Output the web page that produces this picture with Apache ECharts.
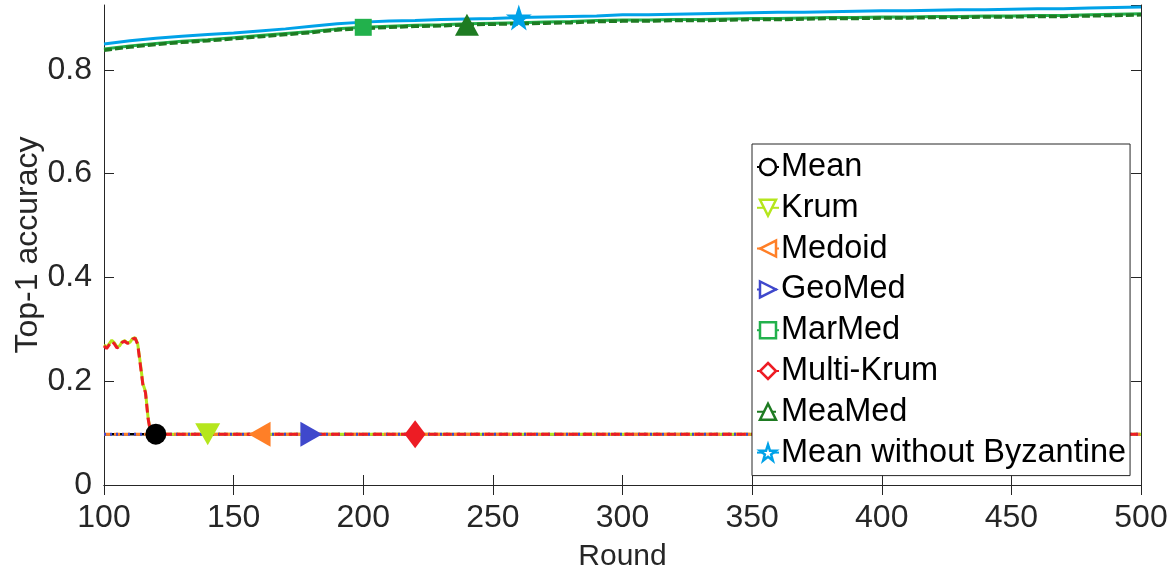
<!DOCTYPE html>
<html><head><meta charset="utf-8">
<script src="https://cdn.jsdelivr.net/npm/echarts@6/dist/echarts.min.js"></script>
<style>html,body{margin:0;padding:0;background:#fff}#c{width:1174px;height:579px}</style>
</head><body><div id="c"></div>
<script>
const xTicks = [100,150,200,250,300,350,400,450,500];
const yTicks = [0,0.2,0.4,0.6,0.8];
const rounds = [100,110,120,130,140,150,160,170,180,190,200,210,220,230,240,250,260,270,280,290,300,310,320,330,340,350,360,370,380,390,400,410,420,430,440,450,460,470,480,490,500];
const roundsKrum = [100,101,102,103,104,105,106,107,108,109,110,111,112,113,114,115,116,117,118,119,120,130,140,150,160,170,180,190,200,210,220,230,240,250,260,270,280,290,300,310,320,330,340,350,360,370,380,390,400,410,420,430,440,450,460,470,480,490,500];
const meanAcc   = [0.098,0.098,0.098,0.098,0.098,0.098,0.098,0.098,0.098,0.098,0.098,0.098,0.098,0.098,0.098,0.098,0.098,0.098,0.098,0.098,0.098,0.098,0.098,0.098,0.098,0.098,0.098,0.098,0.098,0.098,0.098,0.098,0.098,0.098,0.098,0.098,0.098,0.098,0.098,0.098,0.098];
const medoidAcc = [0.098,0.098,0.098,0.098,0.098,0.098,0.098,0.098,0.098,0.098,0.098,0.098,0.098,0.098,0.098,0.098,0.098,0.098,0.098,0.098,0.098,0.098,0.098,0.098,0.098,0.098,0.098,0.098,0.098,0.098,0.098,0.098,0.098,0.098,0.098,0.098,0.098,0.098,0.098,0.098,0.098];
const geoMedAcc = [0.098,0.098,0.098,0.098,0.098,0.098,0.098,0.098,0.098,0.098,0.098,0.098,0.098,0.098,0.098,0.098,0.098,0.098,0.098,0.098,0.098,0.098,0.098,0.098,0.098,0.098,0.098,0.098,0.098,0.098,0.098,0.098,0.098,0.098,0.098,0.098,0.098,0.098,0.098,0.098,0.098];
const krumAcc = [0.270,0.266,0.272,0.279,0.274,0.266,0.268,0.276,0.278,0.274,0.275,0.282,0.284,0.272,0.235,0.195,0.180,0.130,0.100,0.098,0.098,
  0.098,0.098,0.098,0.098,0.098,0.098,0.098,0.098,0.098,0.098,0.098,0.098,0.098,0.098,0.098,0.098,0.098,0.098,0.098,0.098,0.098,0.098,0.098,0.098,0.098,0.098,0.098,0.098,0.098,0.098,0.098,0.098,0.098,0.098,0.098,0.098,0.098,0.098];
const multiKrumAcc = [0.268,0.263,0.270,0.277,0.272,0.264,0.267,0.275,0.277,0.273,0.274,0.281,0.283,0.271,0.232,0.193,0.178,0.128,0.100,0.098,0.098,
  0.098,0.098,0.098,0.098,0.098,0.098,0.098,0.098,0.098,0.098,0.098,0.098,0.098,0.098,0.098,0.098,0.098,0.098,0.098,0.098,0.098,0.098,0.098,0.098,0.098,0.098,0.098,0.098,0.098,0.098,0.098,0.098,0.098,0.098,0.098,0.098,0.098,0.098];
const marMedAcc = [0.840,0.846,0.851,0.855,0.858,0.862,0.866,0.870,0.874,0.879,0.882,0.884,0.886,0.887,0.889,0.890,0.891,0.892,0.893,0.895,0.896,0.896,0.897,0.897,0.898,0.899,0.899,0.900,0.901,0.901,0.902,0.902,0.903,0.903,0.904,0.904,0.905,0.905,0.906,0.907,0.908];
const meaMedAcc = [0.838,0.844,0.849,0.853,0.856,0.860,0.864,0.868,0.872,0.877,0.880,0.882,0.884,0.885,0.887,0.888,0.889,0.890,0.891,0.893,0.894,0.894,0.895,0.895,0.896,0.897,0.897,0.898,0.899,0.899,0.900,0.900,0.901,0.901,0.902,0.902,0.903,0.903,0.904,0.905,0.906];
const noByzAcc  = [0.850,0.856,0.861,0.865,0.868,0.871,0.875,0.879,0.884,0.889,0.892,0.894,0.895,0.897,0.898,0.899,0.901,0.902,0.903,0.904,0.906,0.906,0.907,0.908,0.909,0.910,0.911,0.911,0.912,0.913,0.914,0.914,0.915,0.916,0.916,0.917,0.918,0.918,0.919,0.920,0.921];
const names = ['Mean','Krum','Medoid','GeoMed','MarMed','Multi-Krum','MeaMed','Mean without Byzantine'];
const markerRounds = [120,140,160,180,200,220,240,260];

const STAR = 'path://M50,0 L61.8,35.1 L98.5,35.1 L68.8,56.9 L79.4,91.9 L50,70.5 L20.6,91.9 L31.2,56.9 L1.5,35.1 L38.2,35.1 Z';
const specs = [
  {x: rounds, y: meanAcc, color:'#000000', type:'solid', w:2.5, sym:'circle', size:21, rot:0},
  {x: roundsKrum, y: krumAcc, color:'#B5E61D', type:'solid', w:3, sym:'triangle', size:[25,22], rot:180},
  {x: rounds, y: medoidAcc, color:'#FF7F27', type:[6,4], w:3, sym:'triangle', size:[25,22], rot:90},
  {x: rounds, y: geoMedAcc, color:'#3F48CC', type:[2,4], w:3, sym:'triangle', size:[25,22], rot:-90},
  {x: rounds, y: marMedAcc, color:'#22B14C', type:'solid', w:3, sym:'rect', size:17, rot:0},
  {x: roundsKrum, y: multiKrumAcc, color:'#ED1C24', type:[9,5], w:3, sym:'diamond', size:[21,28], rot:0},
  {x: rounds, y: meaMedAcc, color:'#1E7B22', type:[8,3], w:3.5, sym:'triangle', size:[24,22], rot:0},
  {x: rounds, y: noByzAcc, color:'#00A2E8', type:'solid', w:3, sym:STAR, size:26, rot:0}
];

const series = specs.map((s, i) => {
  const mr = markerRounds[i];
  const mv = s.y[s.x.indexOf(mr)];
  return {
    name: names[i], type: 'line', xAxisIndex: 0, yAxisIndex: 0,
    data: s.x.map((r, k) => [r, s.y[k]]),
    showSymbol: false, symbol: s.sym, symbolSize: s.size, symbolRotate: s.rot,
    lineStyle: {color: s.color, width: s.w, type: s.type},
    itemStyle: {color: s.color},
    animation: false, z: 2 + i * 0.01,
    markPoint: {
      symbol: s.sym, symbolSize: s.size, symbolRotate: s.rot, z: 10,
      itemStyle: {color: s.color, borderWidth: 0},
      label: {show: false},
      data: [{coord: [mr, mv]}]
    }
  };
});

const tickStyle = {show: true, inside: true, length: 10, lineStyle: {color: '#262626', width: 1}};
const lineStyleAx = {show: true, lineStyle: {color: '#262626', width: 1}};
const fontFam = '"Liberation Sans", Arial, Helvetica, sans-serif';
const option = {
  backgroundColor: '#fff',
  animation: false,
  grid: {left: 104, right: 33, top: 5, bottom: 94, containLabel: false, outerBoundsMode: 'none'},
  xAxis: [
    {type: 'value', position: 'bottom', min: 100, max: 500, interval: 50,
     axisLine: lineStyleAx, axisTick: tickStyle, splitLine: {show: false},
     axisLabel: {fontSize: 32, color: '#262626', margin: 17, fontFamily: fontFam,
       formatter: v => xTicks.includes(v) ? String(v) : ''},
     name: 'Round', nameLocation: 'middle', nameGap: 57,
     nameTextStyle: {fontSize: 30, color: '#262626', fontFamily: fontFam}},
    {type: 'value', position: 'top', min: 100, max: 500, interval: 50,
     axisLine: lineStyleAx, axisTick: tickStyle, axisLabel: {show: false}, splitLine: {show: false}}
  ],
  yAxis: [
    {type: 'value', position: 'left', min: 0, max: 0.925, interval: 0.2,
     axisLine: lineStyleAx, axisTick: tickStyle, splitLine: {show: false},
     axisLabel: {fontSize: 32, color: '#262626', margin: 12, fontFamily: fontFam, showMaxLabel: false,
       formatter: v => yTicks.some(t => Math.abs(t - v) < 1e-6) ? String(Math.round(v * 10) / 10) : ''},
     name: 'Top-1 accuracy', nameLocation: 'middle', nameGap: 60, nameMoveOverlap: false,
     nameTextStyle: {fontSize: 32, color: '#262626', fontFamily: fontFam}},
    {type: 'value', position: 'right', min: 0, max: 0.925, interval: 0.2,
     axisLine: lineStyleAx, axisTick: tickStyle, axisLabel: {show: false}, splitLine: {show: false}}
  ],
  legend: {
    orient: 'vertical', left: 752, top: 144,
    backgroundColor: '#fff', borderColor: '#262626', borderWidth: 1,
    padding: [5, 4, 5, 4], itemGap: 4.8, itemWidth: 22, itemHeight: 20,
    textStyle: {fontSize: 32.5, color: '#000', fontFamily: fontFam, lineHeight: 36, padding: [0, 0, 0, -3]},
    data: names.map((n, i) => ({name: n, itemStyle: {color: '#fff', borderColor: specs[i].color, borderWidth: 2.5}}))
  },
  series: series
};
const chart = echarts.init(document.getElementById('c'), null, {renderer: 'canvas'});
chart.setOption(option);
</script>
</body></html>
